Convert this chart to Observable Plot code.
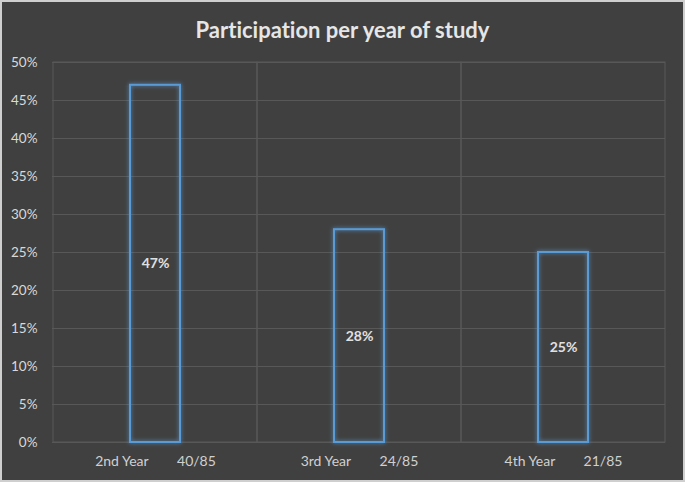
<!DOCTYPE html>
<html>
<head>
<meta charset="utf-8">
<script src="https://cdn.jsdelivr.net/npm/d3@7"></script>
<script src="https://cdn.jsdelivr.net/npm/@observablehq/plot@0.6"></script>
<style>
  html, body { margin: 0; padding: 0; background: #404040; }
  #chart {
    width: 685px; height: 482px; box-sizing: border-box;
    border: 2px solid #cfcfcf; background: #404040;
    font-family: Lato, "Open Sans", sans-serif; overflow: hidden;
    font-variant-ligatures: none;
  }
  #title {
    height: 47px; line-height: 55px; text-align: center;
    color: #e6e6e6; font-weight: bold; font-size: 22px;
    font-variant-ligatures: none; font-feature-settings: "liga" 0;
  }
  svg text { font-variant-ligatures: none; }
  .bars rect { filter: drop-shadow(0 0 2px rgba(91,155,213,0.9)); }
</style>
</head>
<body>
<div id="chart"><div id="title">Participation per year of study</div></div>
<script>
const years = ["2nd Year", "3rd Year", "4th Year"];
const counts = ["40/85", "24/85", "21/85"];
const shares = [0.47, 0.28, 0.25];
const valueLabels = ["47%", "28%", "25%"];
const yTicks = [0, 0.05, 0.10, 0.15, 0.20, 0.25, 0.30, 0.35, 0.40, 0.45, 0.50];

const data = years.map((y, i) => ({year: y, count: counts[i], share: shares[i], label: valueLabels[i]}));
const sp = "\u00a0".repeat(8);
const tickText = Object.fromEntries(years.map((y, i) => [y, y + sp + counts[i]]));

const plot = Plot.plot({
  width: 681,
  height: 431,
  marginLeft: 50,
  marginRight: 18,
  marginTop: 13,
  marginBottom: 38,
  style: {background: "transparent", color: "#d9d9d9", fontFamily: "Lato, 'Open Sans', sans-serif", fontSize: "13px"},
  x: {domain: years, padding: 0, label: null},
  y: {domain: [0, 0.5], label: null},
  marks: [
    Plot.ruleY(yTicks, {stroke: "#585858", strokeWidth: 1}),
    Plot.barY(years, {x: d => d, y1: 0, y2: 0.5, fill: "none", stroke: "#585858", strokeWidth: 1}),
    Plot.axisY({ticks: yTicks, tickFormat: d => Math.round(d * 100) + "%", tickSize: 0, tickPadding: 15, fill: "#d9d9d9", fontSize: 13.5}),
    Plot.axisX({tickFormat: d => tickText[d], tickSize: 0, tickPadding: 14, fill: "#d0d0d0", fontSize: 14}),
    Plot.barY(data, {x: "year", y: "share", fill: "none", stroke: "#5b9bd5", strokeWidth: 2, insetLeft: 77, insetRight: 77, className: "bars"}),
    Plot.text(data, {x: "year", y: d => d.share / 2, text: "label", fill: "#e0e0e0", fontWeight: "bold", fontSize: 14})
  ]
});
document.getElementById("chart").appendChild(plot);
</script>
</body>
</html>
